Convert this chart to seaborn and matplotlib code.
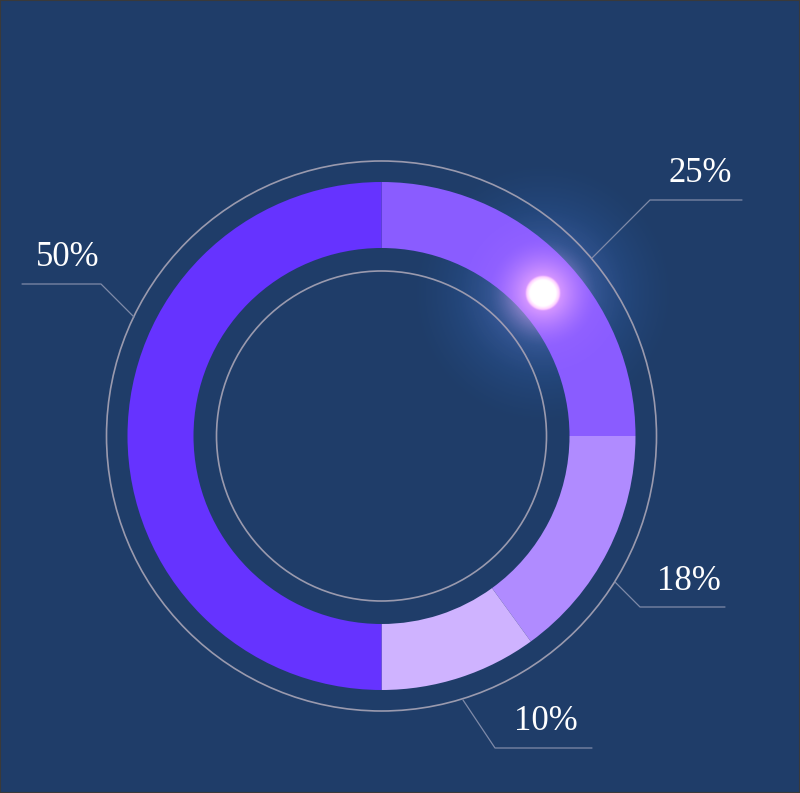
import numpy as np
import matplotlib
matplotlib.use('Agg')
import matplotlib.pyplot as plt
import seaborn as sns

# data
labels = ['25%', '18%', '10%', '50%']
values = [25, 15, 10, 50]   # shares as drawn by the arc sizes
colors = ['#8a5cff', '#b08bff', '#cfb3ff', '#6633ff']

# leader lines (image pixel coords) and label positions
leaders = {
    '25%': [(592, 258), (650, 200), (742, 200)],
    '18%': [(615, 582), (640, 607), (725, 607)],
    '10%': [(463, 700), (495, 748), (592, 748)],
    '50%': [(134, 317), (101, 284), (22, 284)],
}
text_pos = {'25%': (700, 173), '18%': (689, 581), '10%': (546, 722), '50%': (68, 257)}

W, H = 800, 793
bg = '#1f3d69'

sns.set_theme(style='white')
plt.rcParams['font.family'] = ['Liberation Serif', 'DejaVu Serif']

fig = plt.figure(figsize=(W / 100, H / 100), dpi=100, facecolor=bg)
ax = fig.add_axes([0, 0, 1, 1])
ax.set_facecolor(bg)

cx, cy = 381.5, H - 436
r_out, r_in = 254, 188

# soft blue halo, drawn under the ring
gx, gy = 543, H - 293
n = 400
xs = np.linspace(gx - 140, gx + 140, n)
ys = np.linspace(gy - 140, gy + 140, n)
X, Y = np.meshgrid(xs, ys)
d = np.hypot(X - gx, Y - gy)
halo = np.zeros((n, n, 4))
halo[..., 0] = 0.25
halo[..., 1] = 0.5
halo[..., 2] = 0.9
halo[..., 3] = 0.55 * np.clip(1 - d / 135, 0, 1) ** 1.4
ax.imshow(halo, extent=(xs[0], xs[-1], ys[0], ys[-1]), origin='lower', zorder=1, interpolation='bilinear')

ax.pie(values, colors=colors, startangle=90, counterclock=False, center=(cx, cy),
       radius=r_out, wedgeprops=dict(width=r_out - r_in, linewidth=0))
for p in ax.patches:
    p.set_zorder(2)

# glow on top of the ring
glow = np.zeros((n, n, 4))
glow[..., 0] = 1.0
glow[..., 1] = 0.72
glow[..., 2] = 1.0
a_pink = 0.85 * np.clip(1 - d / 55, 0, 1) ** 1.6
a_blue = 0.25 * np.clip(1 - d / 100, 0, 1) ** 2
a_core = np.clip((18 - d) / 5, 0, 1)
glow[..., 1] = 0.72 + 0.28 * a_core
glow[..., 3] = np.clip(a_pink + a_blue + a_core, 0, 1)
ax.imshow(glow, extent=(xs[0], xs[-1], ys[0], ys[-1]), origin='lower', zorder=3, interpolation='bilinear')

# thin rings
for r in (275, 165):
    ax.add_patch(plt.Circle((cx, cy), r, fill=False, edgecolor='#9a9aae', lw=1.2, zorder=2))

# leader lines and labels
for lab in labels:
    pts = leaders[lab]
    ax.plot([p[0] for p in pts], [H - p[1] for p in pts], color='#7f8aa8', lw=0.9, zorder=2)
    tx, ty = text_pos[lab]
    ax.text(tx, H - ty, lab, color='white', fontsize=25, ha='center', va='center', zorder=4)

ax.set_xlim(0, W)
ax.set_ylim(0, H)
ax.set_aspect('auto')
ax.axis('off')

fig.patches.append(plt.Rectangle((0, 0), 1, 1, transform=fig.transFigure, fill=False,
                                 edgecolor='#3a3a3a', lw=1.5))
fig.savefig('out.png', dpi=100, facecolor=bg)
